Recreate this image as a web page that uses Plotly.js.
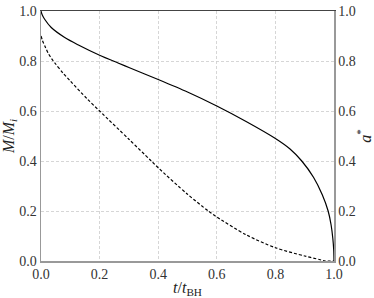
<!DOCTYPE html>
<html>
<head>
<meta charset="utf-8">
<script src="https://cdn.plot.ly/plotly-3.0.1.min.js"></script>
</head>
<body style="margin:0">
<div id="chart"></div>
<script>
// Mass fraction M/M_i (left axis) vs t/t_BH
const tMass = [0, 0.004, 0.0125, 0.035, 0.081, 0.126, 0.2, 0.263, 0.3, 0.4, 0.5, 0.6, 0.7, 0.8, 0.85, 0.89, 0.93, 0.96, 0.98, 0.99, 0.996, 0.999, 1.0];
const massFrac = [1.0, 0.985, 0.967, 0.934, 0.894, 0.865, 0.823, 0.792, 0.774, 0.726, 0.676, 0.62, 0.558, 0.49, 0.448, 0.40, 0.335, 0.265, 0.2, 0.145, 0.09, 0.045, 0.0];
// Spin parameter a* (right axis) vs t/t_BH
const tSpin = [0, 0.005, 0.015, 0.025, 0.036, 0.05, 0.075, 0.1, 0.158, 0.2, 0.3, 0.372, 0.4, 0.5, 0.571, 0.6, 0.7, 0.8, 0.9, 0.95, 0.97, 1.0];
const spin = [0.9, 0.882, 0.855, 0.83, 0.81, 0.788, 0.752, 0.72, 0.648, 0.6, 0.487, 0.405, 0.373, 0.267, 0.2, 0.176, 0.105, 0.053, 0.02, 0.006, 0.0, 0.0];
const tickVals = [0, 0.2, 0.4, 0.6, 0.8, 1.0];
const tickText = ['0.0', '0.2', '0.4', '0.6', '0.8', '1.0'];

const gridCol = '#cccccc';

const traces = [
  {x: tMass, y: massFrac, type: 'scatter', mode: 'lines', line: {color: '#000', width: 1.2, shape: 'spline', smoothing: 0.8}, yaxis: 'y', hoverinfo: 'skip'},
  {x: tSpin, y: spin, type: 'scatter', mode: 'lines', line: {color: '#000', width: 1.2, dash: '3px,2px', shape: 'spline', smoothing: 0.8}, yaxis: 'y2', hoverinfo: 'skip'},
  {x: [0, 1], y: [0, 0], xaxis: 'x2', yaxis: 'y', mode: 'lines', line: {width: 0}, hoverinfo: 'skip'}
];

const layout = {
  width: 374, height: 298,
  margin: {l: 41, r: 40, t: 11, b: 37},
  showlegend: false,
  xaxis: {
    range: [0, 1], tickvals: tickVals, ticktext: tickText, ticks: '',
    tickfont: {family: 'Liberation Serif', size: 14, color: '#333'},
    showgrid: true, gridcolor: gridCol, gridwidth: 0.8, griddash: '3px,2px',
    zeroline: false, showline: true, linecolor: '#999', linewidth: 1.5,
    title: {text: '<i>t</i>/<i>t</i><sub>BH</sub>', font: {family: 'Liberation Serif', size: 16, color: '#222'}, standoff: 4},
    automargin: false
  },
  xaxis2: {
    range: [0, 1], overlaying: 'x', side: 'top', showticklabels: false, ticks: '',
    showgrid: false, zeroline: false, showline: true, linecolor: '#444', linewidth: 1
  },
  yaxis: {
    range: [0, 1], tickvals: tickVals, ticktext: tickText, ticks: '',
    tickfont: {family: 'Liberation Serif', size: 14, color: '#333'},
    showgrid: true, gridcolor: gridCol, gridwidth: 0.8, griddash: '3px,2px',
    zeroline: false, showline: true, linecolor: '#999', linewidth: 1.5,
    title: {text: '<i>M</i>/<i>M</i><sub><i>i</i></sub>', font: {family: 'Liberation Serif', size: 16, color: '#222'}, standoff: 6},
    automargin: false
  },
  yaxis2: {
    range: [0, 1], overlaying: 'y', side: 'right', tickvals: tickVals, ticktext: tickText, ticks: '',
    tickfont: {family: 'Liberation Serif', size: 14, color: '#333'},
    showgrid: false, zeroline: false, showline: true, linecolor: '#999', linewidth: 1.5,
    title: {text: '<i>a</i><sup>*</sup>', font: {family: 'Liberation Serif', size: 16, color: '#222'}, standoff: 6},
    automargin: false
  }
};

Plotly.newPlot('chart', traces, layout, {staticPlot: true});
</script>
</body>
</html>
